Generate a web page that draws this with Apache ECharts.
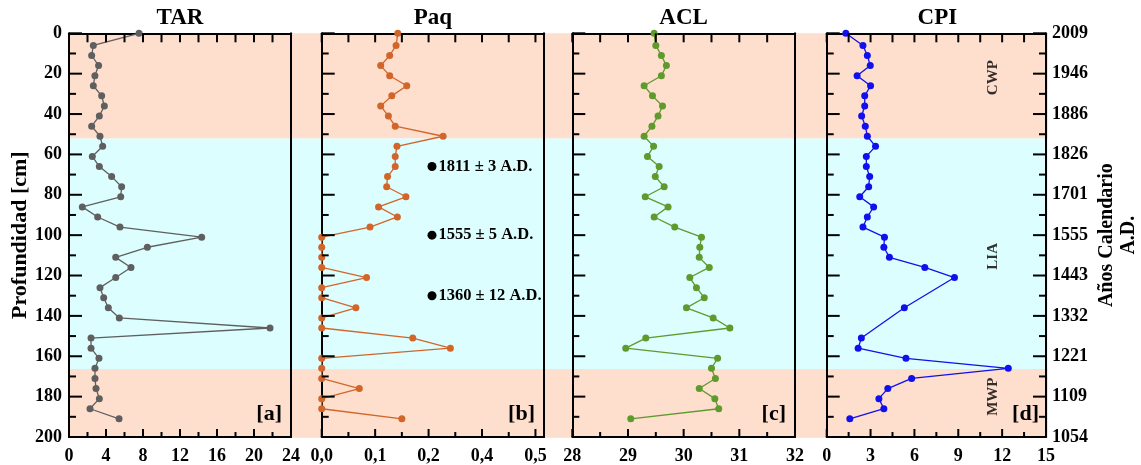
<!DOCTYPE html>
<html><head><meta charset="utf-8">
<script src="https://cdn.jsdelivr.net/npm/echarts@6/dist/echarts.min.js"></script>
<style>html,body{margin:0;padding:0;background:#fff}#c{width:1141px;height:465px}</style>
</head><body><div id="c"></div>
<script>
// ---- data ----
const depths = [0,6,11,16,21,26,31,36,41,46,51,56,61,66,71,76,81,86,91,96,101,106,111,116,121,126,131,136,141,146,151,156,161,166,171,176,181,186,191];
const tar = [7.57,2.63,2.45,3.2,2.8,2.63,3.53,3.82,3.28,2.45,3.35,3.64,2.52,3.28,4.61,5.69,5.59,1.44,3.1,5.51,14.34,8.47,5.05,6.7,5.05,3.35,3.75,4.25,5.44,21.73,2.38,2.38,3.24,2.81,2.81,2.92,3.28,2.27,5.41];
const paq = [0.178,0.174,0.159,0.138,0.159,0.199,0.164,0.138,0.156,0.172,0.284,0.176,0.172,0.172,0.154,0.152,0.197,0.133,0.177,0.113,0,0,0,0,0.105,0,0,0.080,0,0,0.213,0.301,0,0,0,0.088,0,0,0.1875];
const acl = [29.47,29.50,29.60,29.69,29.60,29.29,29.44,29.62,29.54,29.43,29.29,29.46,29.35,29.56,29.49,29.65,29.31,29.72,29.47,29.84,30.32,30.29,30.28,30.46,30.11,30.23,30.37,30.05,30.53,30.83,29.32,28.96,30.61,30.50,30.57,30.28,30.56,30.63,29.05];
const cpi = [1.31,2.48,2.78,2.98,2.08,3.0,2.6,2.6,2.39,2.64,2.78,3.34,2.71,2.71,2.94,2.87,2.26,3.21,2.78,2.48,3.95,3.91,4.29,6.71,8.74,null,null,5.31,null,null,2.37,2.15,5.42,12.42,5.81,4.18,3.57,3.91,1.58];
const panelTitles = ['TAR','Paq','ACL','CPI'];
const panelTags = ['[a]','[b]','[c]','[d]'];
const paqTickLabels = ['0,0','0,1','0,2','0,4','0,5'];
const yearLabels = ['2009','1946','1886','1826','1701','1555','1443','1332','1221','1109','1054'];
const datedDepths = [66,100,130];
const dateLabels = ['1811 ± 3 A.D.','1555 ± 5 A.D.','1360 ± 12 A.D.'];
const periodNames = ['CWP','LIA','MWP'];
const periodDepths = [22,110.5,180];
const bandEdges = [0,52,166,200];
const bandKinds = [0,1,0];

// ---- layout / style ----
const FONT = '"Liberation Serif","Times New Roman",serif';
const TOP = 33.3, H = 404.4;
const G = [{l:69,w:222},{l:321.7,w:222.3},{l:572.3,w:222.7},{l:826.7,w:221.3}];
const AX = [
  {min:0,max:24,interval:4,minor:2},
  {min:0,max:0.52,interval:0.125,minor:0.0625},
  {min:28,max:32,interval:1,minor:0.5},
  {min:0,max:15,interval:3,minor:1.5}
];
const DEPTH = {min:0,max:200,interval:20,minor:10};
const COLORS = ['#5f5f5f','#d2652a','#5e9a2c','#1010ee'];
const BAND_COLORS = ['#fedecd','#dcfefe'];
const values = [tar,paq,acl,cpi];
const line = ()=>({show:true,onZero:false,lineStyle:{color:'#000',width:2}});
const lbl = (o)=>Object.assign({color:'#000',fontFamily:FONT,fontWeight:'bold',fontSize:18},o);
const noTick = {show:false};

const grid = G.map(g=>({left:g.l,top:TOP,width:g.w,height:H}));
grid.push({left:69,top:TOP,width:979,height:H});

const xAxis = [], yAxis = [];
G.forEach((g,i)=>{
  const a = AX[i];
  xAxis.push({type:'value',gridIndex:i,position:'bottom',min:a.min,max:a.max,interval:a.interval,
    axisLine:line(),axisTick:noTick,minorTick:noTick,
    splitLine:{show:false},minorSplitLine:{show:false},
    axisLabel:lbl({margin:10,showMaxLabel:i!==1,
      formatter: i===1 ? (v=>{const k=Math.round(v/0.125);return Math.abs(v-k*0.125)<1e-6?(paqTickLabels[k]||''):'';}) : (v=>String(v))})
  });
  xAxis.push({type:'value',gridIndex:i,position:'top',min:a.min,max:a.max,interval:a.minor,
    axisLine:line(),axisTick:noTick,axisLabel:{show:false},splitLine:{show:false}});
  yAxis.push({type:'value',gridIndex:i,position:'left',inverse:true,min:DEPTH.min,max:DEPTH.max,interval:DEPTH.interval,
    axisLine:line(),axisTick:noTick,minorTick:noTick,
    splitLine:{show:false},minorSplitLine:{show:false},
    axisLabel:lbl({show:i===0,margin:7}),
    name:i===0?'Profundidad [cm]':'',nameLocation:'middle',nameGap:36,nameRotate:90,
    nameTextStyle:lbl({fontSize:22})
  });
  if(i<3){
    yAxis.push({type:'value',gridIndex:i,position:'right',inverse:true,min:DEPTH.min,max:DEPTH.max,
      axisLine:line(),axisTick:noTick,axisLabel:{show:false},splitLine:{show:false}});
  } else {
    yAxis.push({type:'value',gridIndex:i,position:'right',inverse:true,min:DEPTH.min,max:DEPTH.max,interval:DEPTH.interval,
      axisLine:line(),axisTick:noTick,minorTick:noTick,
      splitLine:{show:false},minorSplitLine:{show:false},
      axisLabel:lbl({margin:6,formatter:v=>yearLabels[Math.round(v/20)]||''}),
      name:'Años Calendario\nA.D.',nameLocation:'middle',nameGap:50,nameRotate:90,
      nameTextStyle:lbl({fontSize:20,lineHeight:22})
    });
  }
});
xAxis.push({type:'value',gridIndex:4,min:0,max:1,show:false});
yAxis.push({type:'value',gridIndex:4,inverse:true,min:0,max:200,show:false});

const series = [];
// background period bands
series.push({type:'custom',xAxisIndex:8,yAxisIndex:8,z:-1,silent:true,
  data: bandKinds.map((k,i)=>[bandEdges[i],bandEdges[i+1],k]),
  encode:{y:[0,1]},
  renderItem:(params,api)=>{
    const p0 = api.coord([0,api.value(0)]);
    const p1 = api.coord([1,api.value(1)]);
    return {type:'rect',shape:{x:p0[0],y:p0[1],width:p1[0]-p0[0],height:p1[1]-p0[1]},
      style:{fill:BAND_COLORS[api.value(2)]}};
  }
});
// inward tick marks drawn as thin rectangle symbols anchored on each panel's scales
G.forEach((g,i)=>{
  const a = AX[i];
  const items = [];
  const nx = Math.round((a.max-a.min)/a.minor + 1e-9);
  for(let k=0;k<=nx;k++){
    const v = a.min + k*a.minor;
    if(v > a.max + 1e-9) break;
    const lb = k%2===0 ? 8 : 5;
    items.push({value:[v,DEPTH.max],symbolSize:[2,lb],symbolOffset:[0,-lb/2]});
    items.push({value:[v,DEPTH.min],symbolSize:[2,9],symbolOffset:[0,4.5]});
  }
  const ny = Math.round((DEPTH.max-DEPTH.min)/DEPTH.minor);
  for(let k=0;k<=ny;k++){
    const v = DEPTH.min + k*DEPTH.minor;
    const len = k%2===0 ? 13 : 7;
    items.push({value:[a.min,v],symbolSize:[len,2],symbolOffset:[len/2,0]});
    if(i===3) items.push({value:[a.max,v],symbolSize:[len,2],symbolOffset:[-len/2,0]});
  }
  series.push({type:'scatter',xAxisIndex:2*i,yAxisIndex:2*i,data:items,symbol:'rect',
    clip:false,silent:true,z:8,itemStyle:{color:'#000',opacity:1}});
});
// profiles
values.forEach((vals,i)=>{
  const data = [];
  vals.forEach((v,j)=>{ if(v!==null) data.push([v,depths[j]]); });
  series.push({type:'line',xAxisIndex:2*i,yAxisIndex:2*i,data,symbol:'circle',symbolSize:7,z:6,
    showSymbol:true,clip:false,itemStyle:{color:COLORS[i],opacity:1},lineStyle:{color:COLORS[i],width:1.3}});
});
// dated levels
series.push({type:'scatter',xAxisIndex:2,yAxisIndex:2,symbolSize:9,z:7,itemStyle:{color:'#000',opacity:1},
  data: datedDepths.map(d=>[0.258,d]),
  label:lbl({show:true,position:'right',distance:2,fontSize:16.5,formatter:p=>dateLabels[p.dataIndex]})
});
// climate period names
series.push({type:'scatter',xAxisIndex:6,yAxisIndex:6,symbolSize:1,z:7,itemStyle:{color:'rgba(0,0,0,0)'},
  data: periodDepths.map(d=>[11.35,d]),
  label:lbl({show:true,position:'inside',rotate:90,fontSize:15,formatter:p=>periodNames[p.dataIndex]})
});

const title = G.map((g,i)=>({text:panelTitles[i],left:g.l+g.w/2,top:7,textAlign:'center',padding:0,
  textStyle:{fontFamily:FONT,fontWeight:'bold',fontSize:23,color:'#000'}}));
const graphic = G.map((g,i)=>({type:'text',z:100,
  style:{text:panelTags[i],x:g.l+g.w-9,y:414,align:'right',verticalAlign:'middle',textAlign:'right',textVerticalAlign:'middle',
    fontFamily:FONT,fontWeight:'bold',fontSize:22,fill:'#000'}}));

const chart = echarts.init(document.getElementById('c'));
chart.setOption({animation:false,title,grid,xAxis,yAxis,series,graphic});
</script></body></html>
